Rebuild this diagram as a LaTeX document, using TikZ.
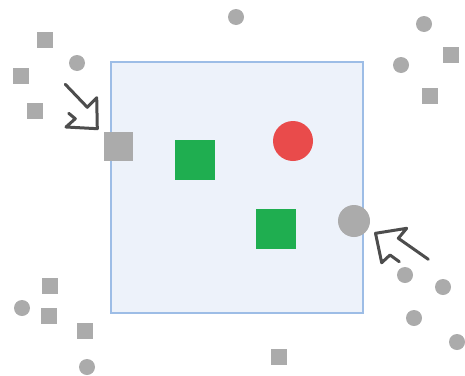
\documentclass[tikz,border=0pt]{standalone}
\usepackage{tikz}

\definecolor{dotgrey}{HTML}{ABABAB}
\definecolor{zonefill}{HTML}{EDF2FA}
\definecolor{zoneline}{HTML}{9DBDE6}
\definecolor{hitgreen}{HTML}{1FAE50}
\definecolor{hitred}{HTML}{E94B4B}
\definecolor{pointer}{HTML}{4D4D4D}

\begin{document}
\begin{tikzpicture}[
            x=1pt, y=-1pt,
            small sq/.style={rectangle,fill=dotgrey,inner sep=0pt,minimum size=16pt},
            small dot/.style={circle,fill=dotgrey,inner sep=0pt,minimum size=16pt},
            hit sq/.style={rectangle,fill=hitgreen,inner sep=0pt,minimum size=40pt},
            hit dot/.style={circle,fill=hitred,inner sep=0pt,minimum size=40pt},
            pointer line/.style={draw=pointer,line width=3pt,line join=round,line cap=round},
        ]
            \useasboundingbox (0,0) rectangle (465,375);

            % zone
            \node[rectangle,draw=zoneline,fill=zonefill,line width=2pt,inner sep=0pt,
                minimum width=252pt,minimum height=251pt] (zone) at (237,187.5) {};

            % scattered items outside
            \node[small sq] (s1) at (45,40) {};
            \node[small sq] (s2) at (21,76) {};
            \node[small sq] (s3) at (35,111) {};
            \node[small sq] (s4) at (451,55) {};
            \node[small sq] (s5) at (430,96) {};
            \node[small sq] (s6) at (50,286) {};
            \node[small sq] (s7) at (49,316) {};
            \node[small sq] (s8) at (85,331) {};
            \node[small sq] (s9) at (279,357) {};

            \node[small dot] (d1) at (236,17) {};
            \node[small dot] (d2) at (77,63) {};
            \node[small dot] (d3) at (424,24) {};
            \node[small dot] (d4) at (401,65) {};
            \node[small dot] (d5) at (405,275) {};
            \node[small dot] (d6) at (443,287) {};
            \node[small dot] (d7) at (22,308) {};
            \node[small dot] (d8) at (414,318) {};
            \node[small dot] (d9) at (457,342) {};
            \node[small dot] (d10) at (87,367) {};

            % items on the border
            \node[rectangle,fill=dotgrey,inner sep=0pt,minimum size=29pt] (edge sq) at (118.5,146.5) {};
            \node[circle,fill=dotgrey,inner sep=0pt,minimum size=32pt] (edge dot) at (354,221) {};

            % items inside
            \node[hit sq] (g1) at (195,160) {};
            \node[hit sq] (g2) at (276,229) {};
            \node[hit dot] (r1) at (293,141) {};

            % pointers
            \path[pointer line] (65.3,84.3) -- (87.3,107.3) -- (96.7,97.7) -- (97.3,128.7)
                -- (66,127) -- (75.3,118.7) -- (68.7,113.3);
            \path[pointer line] (428.3,259.3) -- (398.3,238.3) -- (406.7,228.3) -- (375.5,233.3)
                -- (381.7,262.7) -- (390,255) -- (399.3,261.7);
        \end{tikzpicture}
\end{document}
